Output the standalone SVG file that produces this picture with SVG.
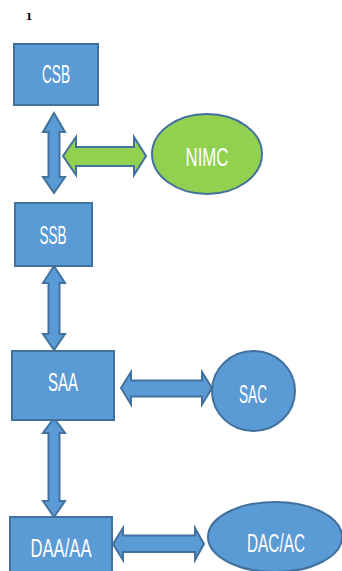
<svg xmlns="http://www.w3.org/2000/svg" width="342" height="571" viewBox="0 0 342 571">
  <style>
    .box { fill: #5B9BD5; stroke: #41719C; stroke-width: 2; }
    .green { fill: #92D050; stroke: #41719C; stroke-width: 2; }
    .arrow { fill: #5B9BD5; stroke: #41719C; stroke-width: 2; stroke-linejoin: miter; }
    .arrow-green { fill: #92D050; stroke: #41719C; stroke-width: 2; }
    .label { fill: #ffffff; font-family: "Liberation Sans", Arial, sans-serif; font-size: 25px; text-anchor: middle; }
    .note { fill: #000000; font-family: "Liberation Serif", serif; font-size: 13px; font-weight: bold; text-anchor: middle; }
  </style>
  <defs>
    <clipPath id="noteClip">
      <rect x="20" y="13" width="25" height="10"/>
    </clipPath>
  </defs>
  <rect width="342" height="571" fill="#ffffff"/>
  <text class="note" x="29" y="20" clip-path="url(#noteClip)">1</text>

  <g id="connectors">
    <polygon class="arrow" points="54,113 65,132 59.5,132 59.5,177 65,177 54,193 43,177 48.5,177 48.5,132 43,132"/>
    <polygon class="arrow-green" points="63,156 76,137 76,147 134,147 134,137 146,156 134,175 134,166 76,166 76,175"/>
    <polygon class="arrow" points="54,266 65,283 59.5,283 59.5,334 65,334 54,350 43,334 48.5,334 48.5,283 43,283"/>
    <polygon class="arrow" points="121,388 131,372 131,380.5 202,380.5 202,372 212,388 202,404.5 202,396.5 131,396.5 131,404.5"/>
    <polygon class="arrow" points="54,418 65,433 59.5,433 59.5,501 65,501 54,517 43,501 48.5,501 48.5,433 43,433"/>
    <polygon class="arrow" points="113,544 123,528 123,535.5 195,535.5 195,528 204,544 195,560 195,552 123,552 123,560"/>
  </g>

  <g id="csb">
    <rect class="box" x="14" y="44" width="84" height="61"/>
    <text class="label" x="56" y="83" textLength="28" lengthAdjust="spacingAndGlyphs">CSB</text>
  </g>
  <g id="nimc">
    <ellipse class="green" cx="207" cy="154" rx="55" ry="40"/>
    <text class="label" x="207" y="166" textLength="43" lengthAdjust="spacingAndGlyphs">NIMC</text>
  </g>
  <g id="ssb">
    <rect class="box" x="15" y="203" width="77" height="63"/>
    <text class="label" x="53" y="244" textLength="27" lengthAdjust="spacingAndGlyphs">SSB</text>
  </g>
  <g id="saa">
    <rect class="box" x="12" y="351" width="102" height="69"/>
    <text class="label" x="63" y="391" textLength="30" lengthAdjust="spacingAndGlyphs">SAA</text>
  </g>
  <g id="sac">
    <ellipse class="box" cx="253.5" cy="391" rx="41.5" ry="40"/>
    <text class="label" x="253" y="403" textLength="28" lengthAdjust="spacingAndGlyphs">SAC</text>
  </g>
  <g id="daa">
    <rect class="box" x="10" y="517" width="102" height="60"/>
    <text class="label" x="61" y="557" textLength="61" lengthAdjust="spacingAndGlyphs">DAA/AA</text>
  </g>
  <g id="dac">
    <ellipse class="box" cx="275" cy="537" rx="67" ry="35"/>
    <text class="label" x="276" y="552" textLength="58" lengthAdjust="spacingAndGlyphs">DAC/AC</text>
  </g>
</svg>
